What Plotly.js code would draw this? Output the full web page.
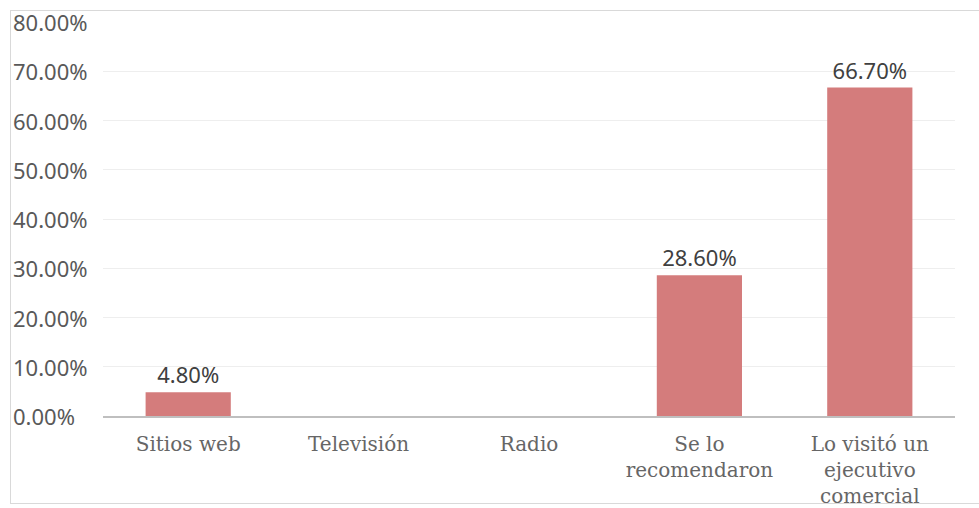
<!DOCTYPE html>
<html><head><meta charset="utf-8">
<script src="https://cdn.plot.ly/plotly-3.0.1.min.js"></script>
<style>
html,body{margin:0;padding:0;background:#fff;}
#frame{position:absolute;left:10px;top:10px;width:980px;height:494px;border:1px solid #d9d9d9;box-sizing:border-box;}
#chart{position:absolute;left:0;top:0;width:979px;height:508px;}
</style>
</head><body>
<div id="frame"></div>
<div id="chart"></div>
<script>
const categories = ["Sitios web", "Televisión", "Radio", "Se lo<br>recomendaron", "Lo visitó un<br>ejecutivo<br>comercial"];
const values = [4.8, 0, 0, 28.6, 66.7];
const tickValues = [0, 10, 20, 30, 40, 50, 60, 70, 80];

const labels = values.map(v => v > 0 ? v.toFixed(2) + '%' : '');

const trace = {
  type: 'bar',
  x: categories,
  y: values,
  text: labels,
  textposition: 'outside',
  cliponaxis: false,
  textfont: {family: 'Noto Sans, sans-serif', size: 22, color: '#404040'},
  marker: {color: 'rgb(212,124,124)', line: {width: 0}},
  hoverinfo: 'none'
};

const annotations = tickValues.map(t => ({
  xref: 'paper', yref: 'y', x: -0.108, y: t,
  xanchor: 'left', yanchor: 'middle',
  text: t.toFixed(2) + '%', showarrow: false,
  font: {family: 'Noto Sans, sans-serif', size: 22, color: '#595959'}
}));

const layout = {
  width: 979, height: 508,
  margin: {l: 103, r: 24, t: 22, b: 92},
  paper_bgcolor: 'rgba(0,0,0,0)',
  plot_bgcolor: 'rgba(0,0,0,0)',
  bargap: 0.5,
  showlegend: false,
  xaxis: {
    type: 'category',
    showgrid: false,
    showline: true, linecolor: '#bfbfbf', linewidth: 2,
    ticks: 'outside', ticklen: 9, tickcolor: 'rgba(0,0,0,0)',
    tickfont: {family: 'DejaVu Serif, serif', size: 20, color: '#666666'},
    zeroline: false
  },
  yaxis: {
    range: [0, 80],
    tickvals: tickValues,
    showticklabels: false,
    showgrid: true, gridcolor: '#eeeeee', gridwidth: 1,
    zeroline: false, showline: false
  },
  annotations: annotations
};

Plotly.newPlot('chart', [trace], layout, {displayModeBar: false, staticPlot: true});
</script>
</body></html>
